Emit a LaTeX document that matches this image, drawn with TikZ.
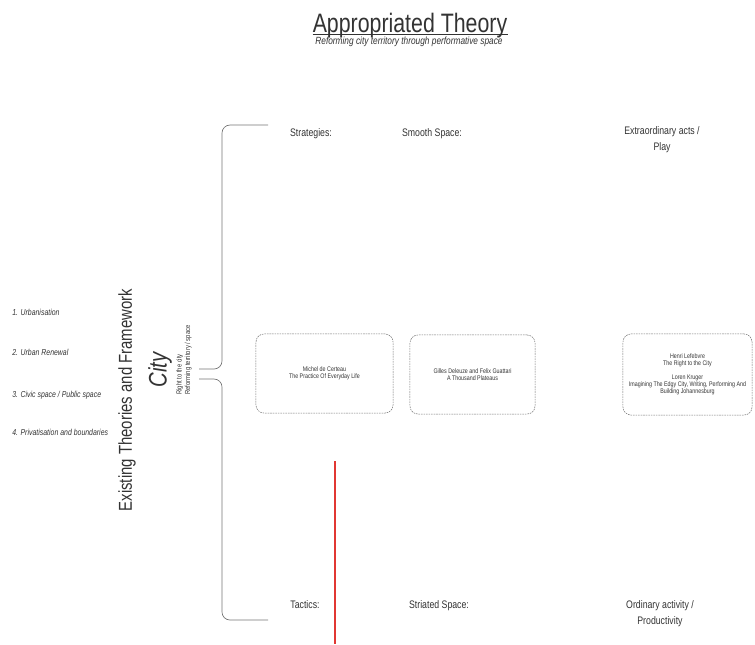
\documentclass[tikz,border=0pt]{standalone}
\usepackage{fontspec}
\setmainfont{Liberation Sans}
\newfontfamily\narrowsans[FakeStretch=0.8]{Liberation Sans}
\definecolor{redline}{RGB}{225,55,50}
\begin{document}
\begin{tikzpicture}
  [x=0.75pt,y=-0.75pt,every node/.style={inner sep=0pt,text=black!80},
   head/.style={anchor=base,align=center,font=\narrowsans\fontsize{8.2}{12}\selectfont},
   topic/.style={anchor=base west,font=\narrowsans\itshape\fontsize{6.5}{8}\selectfont},
   book/.style={draw=black!55,dash pattern=on 1.2pt off 0.7pt,rounded corners=6pt,
     align=center,font=\narrowsans\fontsize{5}{5.3}\selectfont},
   bracket/.style={draw=black!55,line width=0.5pt,rounded corners=6pt}]
\useasboundingbox (0,0) rectangle (755,644);

% heading
\node (title)[anchor=base,font=\narrowsans\fontsize{20}{24}\selectfont] at (410,32) {Appropriated Theory};
\node (subtitle)[anchor=base,font=\narrowsans\itshape\fontsize{7.8}{9}\selectfont] at (409,44) {Reforming city territory through performative space};
\draw[black!80,line width=0.6pt] ([yshift=-1.6pt]title.base west) -- ([yshift=-1.6pt]title.base east);

% existing theories
\node (t1)[topic] at (12,315) {1. Urbanisation};
\node (t2)[topic] at (12,355) {2. Urban Renewal};
\node (t3)[topic] at (12,397) {3. Civic space / Public space};
\node (t4)[topic] at (12,435) {4. Privatisation and boundaries};
\node (existing)[rotate=90,font=\narrowsans\fontsize{14}{16}\selectfont] at (127,400) {Existing Theories and Framework};
\node (city)[rotate=90,font=\narrowsans\itshape\fontsize{19}{21}\selectfont] at (160,370) {City};
\node (right)[rotate=90,align=left,font=\narrowsans\fontsize{5.5}{6.5}\selectfont] at (184,360) {Right to the city\\Reforming territory / space};

% bracket
\coordinate (topArm) at (268,125);
\coordinate (upStub) at (199,369);
\coordinate (lowStub) at (199,379);
\coordinate (botArm) at (268,620);
\draw[bracket] (topArm) -| (222,369) -- (upStub);
\draw[bracket] (lowStub) -| (222,620) -- (botArm);

% columns
\node (strategies)[head] at (311,136) {Strategies:};
\node (smooth)[head] at (432,136) {Smooth Space:};
\node (extra)[head] at (662,150) {Extraordinary acts /\\Play};
\node (tactics)[head] at (305,608) {Tactics:};
\node (striated)[head] at (439,608) {Striated Space:};
\node (ordinary)[head] at (660,624) {Ordinary activity /\\Productivity};

\node (certeau)[book,minimum width=102.8pt,minimum height=59.3pt] at (324.5,373.5) {Michel de Certeau\\The Practice Of Everyday Life};
\node (deleuze)[book,minimum width=93.8pt,minimum height=59.3pt] at (472.5,374.5) {Gilles Deleuze and Felix Guattari\\A Thousand Plateaus};
\node (lefebvre)[book,minimum width=96.8pt,minimum height=60.8pt] at (687.5,374.5) {Henri Lefebvre\\The Right to the City\\[5pt]Loren Kruger\\Imagining The Edgy City, Writing, Performing And\\Building Johannesburg};

\coordinate (redTop) at (335,461);
\coordinate (redBot) at (335,644);
\draw[draw=redline,line width=0.8pt] (redTop) -- (redBot);
\end{tikzpicture}
\end{document}
